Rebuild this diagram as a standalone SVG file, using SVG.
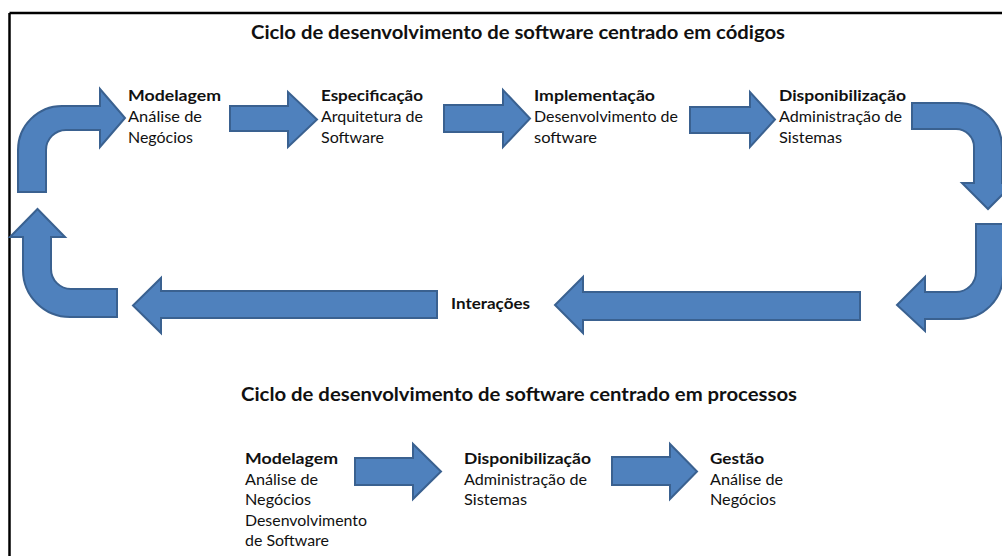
<svg xmlns="http://www.w3.org/2000/svg" width="1002" height="556" viewBox="0 0 1002 556">
<style>
.arrow{fill:#4F81BD;stroke:#3A6190;stroke-width:2;stroke-linejoin:miter}
.t{font-family:Lato,"Open Sans","Liberation Sans",sans-serif;fill:#111;font-size:15px}
.b{font-weight:bold}
.title{font-family:Lato,"Open Sans","Liberation Sans",sans-serif;font-weight:bold;font-size:18.5px;fill:#111}
</style>
<rect width="1002" height="556" fill="#fff"/>
<g id="frame" stroke="#000" stroke-width="2.5" fill="none">
<line x1="9.5" y1="13" x2="1002" y2="13"/>
<line x1="9.5" y1="13" x2="9.5" y2="556"/>
</g>
<g id="titles">
<text class="title" x="251" y="39" textLength="534" lengthAdjust="spacingAndGlyphs">Ciclo de desenvolvimento de software centrado em códigos</text>
<text class="title" x="241" y="401" textLength="556" lengthAdjust="spacingAndGlyphs">Ciclo de desenvolvimento de software centrado em processos</text>
</g>
<g id="connectors">
<path class="arrow" d="M18,192 L18,150 A44,44 0 0 1 62,106 L100,106 L100,89 L125,118 L100,147 L100,130 L66,130 A20,20 0 0 0 46,150 L46,192 Z"/>
<path class="arrow" d="M230,106 L288,106 L288,92 L317,119.5 L288,147 L288,131 L230,131 Z"/>
<path class="arrow" d="M444,105 L503,105 L503,90 L530,118.5 L503,147 L503,132 L444,132 Z"/>
<path class="arrow" d="M690,107 L750,107 L750,92 L775,119.5 L750,147 L750,133 L690,133 Z"/>
<path class="arrow" d="M912,103 L958,103 A44,44 0 0 1 1002,147 L1002,183 L1014,183 L988,209 L962,183 L974,183 L974,147 A18,18 0 0 0 956,129 L912,129 Z"/>
<path class="arrow" d="M976,224 L1003,224 L1003,275 A44,44 0 0 1 959,319 L925,319 L925,331 L897,305 L925,277 L925,292 L956,292 A20,20 0 0 0 976,272 Z"/>
<path class="arrow" d="M860,292 L860,320 L583,320 L583,333 L555,305 L583,277 L583,292 Z"/>
<path class="arrow" d="M437,291 L437,318 L161,318 L161,333 L133,305.5 L161,278 L161,291 Z"/>
<path class="arrow" d="M117,289 L71,289 A20,20 0 0 1 51,269 L51,237 L65,237 L37.5,209 L10,237 L23,237 L23,270 A47,47 0 0 0 70,317 L117,317 Z"/>
<path class="arrow" d="M355,458 L413,458 L413,444 L441,471.5 L413,499 L413,485 L355,485 Z"/>
<path class="arrow" d="M612,457 L670,457 L670,444 L697,471.5 L670,499 L670,485 L612,485 Z"/>
</g>
<g id="n-modelagem">
<text class="t b" x="128" y="101" textLength="93" lengthAdjust="spacingAndGlyphs">Modelagem</text>
<text class="t" x="128" y="122" textLength="74" lengthAdjust="spacingAndGlyphs">Análise de</text>
<text class="t" x="128" y="143" textLength="65" lengthAdjust="spacingAndGlyphs">Negócios</text>
</g>
<g id="n-especificacao">
<text class="t b" x="321" y="101" textLength="102" lengthAdjust="spacingAndGlyphs">Especificação</text>
<text class="t" x="321" y="122" textLength="102" lengthAdjust="spacingAndGlyphs">Arquitetura de</text>
<text class="t" x="321" y="143" textLength="63" lengthAdjust="spacingAndGlyphs">Software</text>
</g>
<g id="n-implementacao">
<text class="t b" x="534" y="101" textLength="121" lengthAdjust="spacingAndGlyphs">Implementação</text>
<text class="t" x="534" y="122" textLength="144" lengthAdjust="spacingAndGlyphs">Desenvolvimento de</text>
<text class="t" x="534" y="143" textLength="63" lengthAdjust="spacingAndGlyphs">software</text>
</g>
<g id="n-disponibilizacao">
<text class="t b" x="779" y="101" textLength="127" lengthAdjust="spacingAndGlyphs">Disponibilização</text>
<text class="t" x="779" y="122" textLength="123" lengthAdjust="spacingAndGlyphs">Administração de</text>
<text class="t" x="779" y="143" textLength="63" lengthAdjust="spacingAndGlyphs">Sistemas</text>
</g>
<g id="n-interacoes">
<text class="t b" x="451" y="309" textLength="79" lengthAdjust="spacingAndGlyphs">Interações</text>
</g>
<g id="n-modelagem2">
<text class="t b" x="245" y="464" textLength="93" lengthAdjust="spacingAndGlyphs">Modelagem</text>
<text class="t" x="245" y="485" textLength="73" lengthAdjust="spacingAndGlyphs">Análise de</text>
<text class="t" x="245" y="505" textLength="66" lengthAdjust="spacingAndGlyphs">Negócios</text>
<text class="t" x="245" y="526" textLength="122" lengthAdjust="spacingAndGlyphs">Desenvolvimento</text>
<text class="t" x="245" y="546" textLength="84" lengthAdjust="spacingAndGlyphs">de Software</text>
</g>
<g id="n-disponibilizacao2">
<text class="t b" x="464" y="464" textLength="127" lengthAdjust="spacingAndGlyphs">Disponibilização</text>
<text class="t" x="464" y="485" textLength="123" lengthAdjust="spacingAndGlyphs">Administração de</text>
<text class="t" x="464" y="505" textLength="63" lengthAdjust="spacingAndGlyphs">Sistemas</text>
</g>
<g id="n-gestao">
<text class="t b" x="710" y="464" textLength="54" lengthAdjust="spacingAndGlyphs">Gestão</text>
<text class="t" x="710" y="485" textLength="73" lengthAdjust="spacingAndGlyphs">Análise de</text>
<text class="t" x="710" y="505" textLength="66" lengthAdjust="spacingAndGlyphs">Negócios</text>
</g>
</svg>
